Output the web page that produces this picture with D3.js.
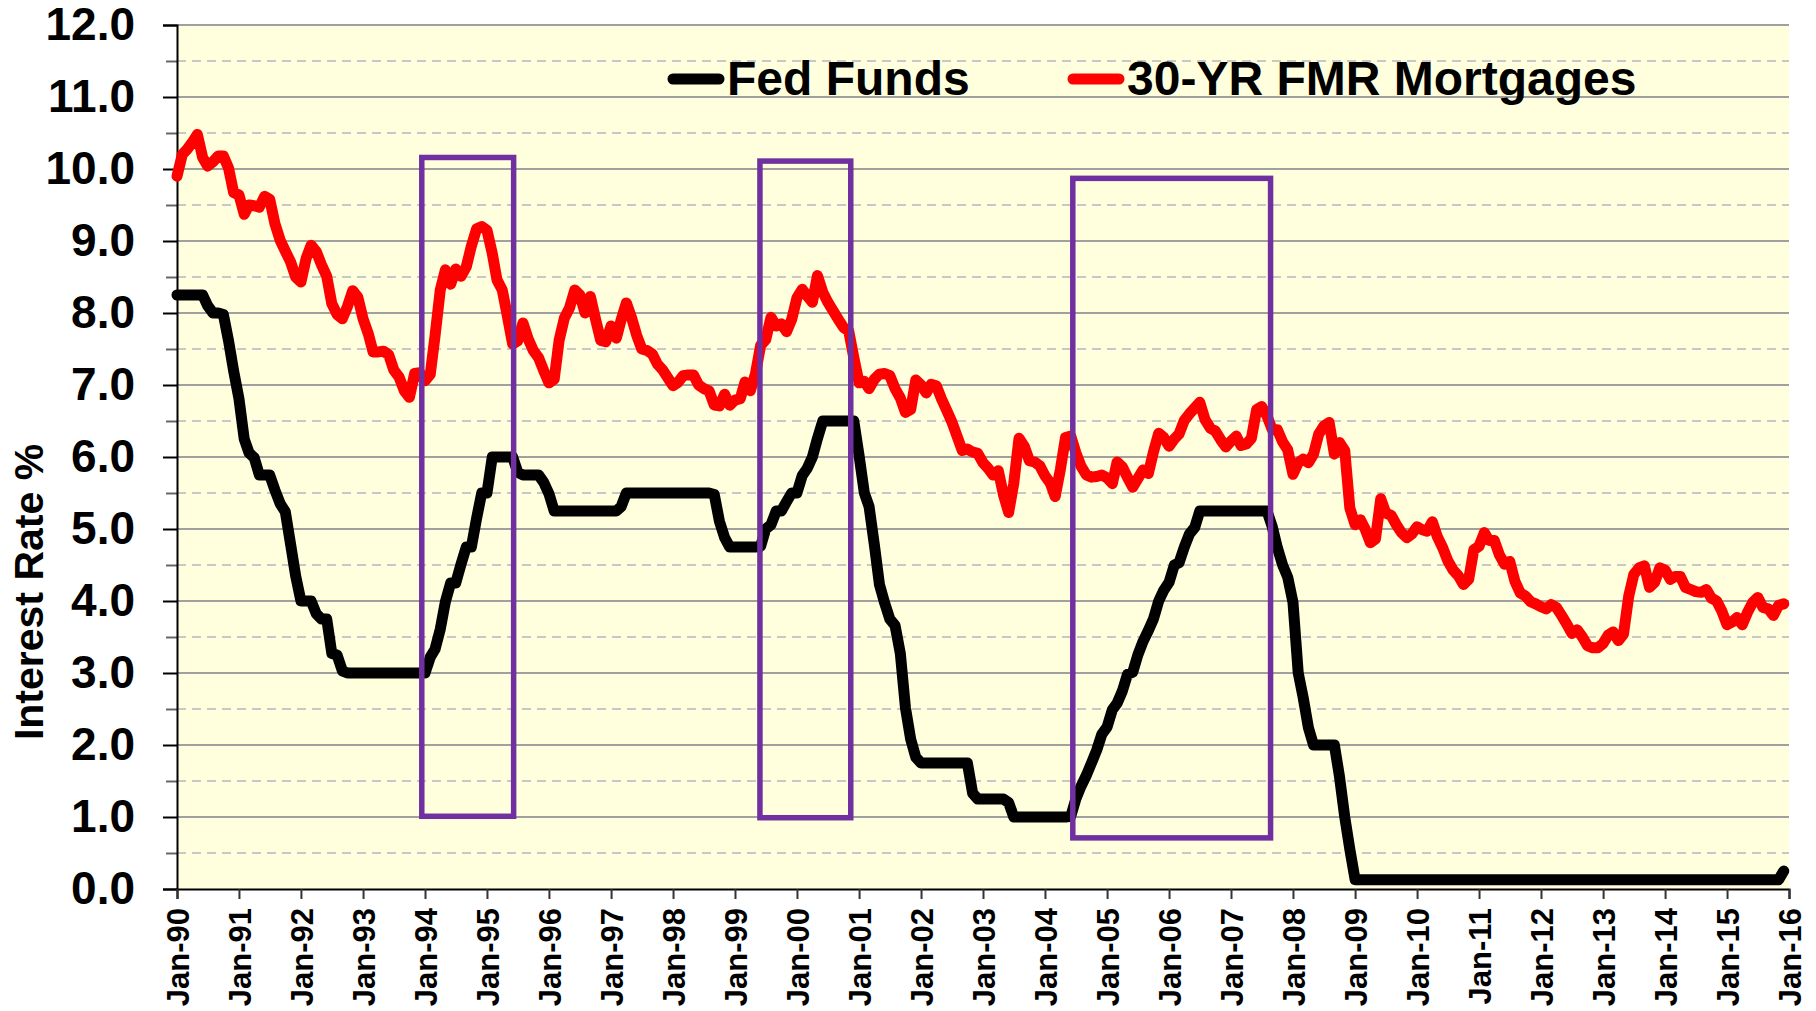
<!DOCTYPE html>
<html>
<head>
<meta charset="utf-8">
<script src="https://cdn.jsdelivr.net/npm/d3@7"></script>
<style>
  body { margin: 0; background: #fff; }
  svg { display: block; font-family: "Liberation Sans", Arial, sans-serif; font-weight: bold; }
</style>
</head>
<body>
<svg id="chart" width="1816" height="1011"></svg>
<script>
// monthly values, Jan-1990 .. Dec-2015
var startYear = 1990;

var fedFunds = [
  8.25, 8.25, 8.25, 8.25, 8.25, 8.25, 8.10, 8.00, 8.00, 7.98, 7.61, 7.19,
  6.81, 6.25, 6.06, 5.99, 5.75, 5.75, 5.75, 5.54, 5.35, 5.24, 4.79, 4.35,
  4.00, 4.00, 4.00, 3.82, 3.75, 3.75, 3.27, 3.25, 3.03, 3.00, 3.00, 3.00,
  3.00, 3.00, 3.00, 3.00, 3.00, 3.00, 3.00, 3.00, 3.00, 3.00, 3.00, 3.00,
  3.00, 3.22, 3.33, 3.61, 3.99, 4.25, 4.25, 4.51, 4.75, 4.75, 5.15, 5.50,
  5.50, 6.00, 6.00, 6.00, 6.00, 6.00, 5.79, 5.75, 5.75, 5.75, 5.75, 5.65,
  5.49, 5.25, 5.25, 5.25, 5.25, 5.25, 5.25, 5.25, 5.25, 5.25, 5.25, 5.25,
  5.25, 5.25, 5.31, 5.50, 5.50, 5.50, 5.50, 5.50, 5.50, 5.50, 5.50, 5.50,
  5.50, 5.50, 5.50, 5.50, 5.50, 5.50, 5.50, 5.50, 5.48, 5.11, 4.88, 4.75,
  4.75, 4.75, 4.75, 4.75, 4.75, 4.76, 5.00, 5.06, 5.25, 5.25, 5.38, 5.50,
  5.50, 5.74, 5.84, 6.00, 6.26, 6.50, 6.50, 6.50, 6.50, 6.50, 6.50, 6.50,
  6.02, 5.50, 5.31, 4.78, 4.23, 3.97, 3.75, 3.66, 3.27, 2.52, 2.08, 1.83,
  1.75, 1.75, 1.75, 1.75, 1.75, 1.75, 1.75, 1.75, 1.75, 1.75, 1.33, 1.25,
  1.25, 1.25, 1.25, 1.25, 1.25, 1.20, 1.00, 1.00, 1.00, 1.00, 1.00, 1.00,
  1.00, 1.00, 1.00, 1.00, 1.00, 1.01, 1.25, 1.43, 1.58, 1.75, 1.93, 2.15,
  2.25, 2.49, 2.58, 2.75, 2.98, 3.01, 3.25, 3.44, 3.59, 3.75, 4.00, 4.15,
  4.26, 4.50, 4.53, 4.75, 4.93, 5.02, 5.25, 5.25, 5.25, 5.25, 5.25, 5.25,
  5.25, 5.25, 5.25, 5.25, 5.25, 5.25, 5.25, 5.25, 5.03, 4.74, 4.50, 4.33,
  3.98, 3.00, 2.66, 2.24, 2.00, 2.00, 2.00, 2.00, 2.00, 1.56, 1.00, 0.55,
  0.13, 0.13, 0.13, 0.13, 0.13, 0.13, 0.13, 0.13, 0.13, 0.13, 0.13, 0.13,
  0.13, 0.13, 0.13, 0.13, 0.13, 0.13, 0.13, 0.13, 0.13, 0.13, 0.13, 0.13,
  0.13, 0.13, 0.13, 0.13, 0.13, 0.13, 0.13, 0.13, 0.13, 0.13, 0.13, 0.13,
  0.13, 0.13, 0.13, 0.13, 0.13, 0.13, 0.13, 0.13, 0.13, 0.13, 0.13, 0.13,
  0.13, 0.13, 0.13, 0.13, 0.13, 0.13, 0.13, 0.13, 0.13, 0.13, 0.13, 0.13,
  0.13, 0.13, 0.13, 0.13, 0.13, 0.13, 0.13, 0.13, 0.13, 0.13, 0.13, 0.13,
  0.13, 0.13, 0.13, 0.13, 0.13, 0.13, 0.13, 0.13, 0.13, 0.13, 0.13, 0.25
];

var mortgage30 = [
  9.90, 10.20, 10.27, 10.37, 10.48, 10.16, 10.04, 10.10, 10.18, 10.18, 10.01, 9.67,
  9.64, 9.37, 9.50, 9.49, 9.47, 9.62, 9.58, 9.24, 9.01, 8.86, 8.71, 8.50,
  8.43, 8.76, 8.94, 8.85, 8.67, 8.51, 8.13, 7.98, 7.92, 8.09, 8.31, 8.22,
  7.92, 7.71, 7.46, 7.46, 7.47, 7.42, 7.21, 7.11, 6.92, 6.83, 7.16, 7.17,
  7.06, 7.15, 7.68, 8.32, 8.60, 8.40, 8.61, 8.51, 8.64, 8.93, 9.17, 9.20,
  9.15, 8.83, 8.46, 8.32, 7.96, 7.57, 7.61, 7.86, 7.64, 7.48, 7.38, 7.20,
  7.03, 7.08, 7.62, 7.93, 8.07, 8.32, 8.25, 8.00, 8.23, 7.92, 7.62, 7.60,
  7.82, 7.65, 7.90, 8.14, 7.94, 7.69, 7.50, 7.48, 7.43, 7.29, 7.21, 7.10,
  6.99, 7.04, 7.13, 7.14, 7.14, 7.00, 6.95, 6.92, 6.72, 6.71, 6.87, 6.72,
  6.79, 6.81, 7.04, 6.92, 7.15, 7.55, 7.63, 7.94, 7.82, 7.85, 7.74, 7.91,
  8.21, 8.33, 8.24, 8.15, 8.52, 8.29, 8.15, 8.03, 7.91, 7.80, 7.75, 7.38,
  7.03, 7.05, 6.95, 7.08, 7.15, 7.16, 7.13, 6.95, 6.82, 6.62, 6.66, 7.07,
  7.00, 6.89, 7.01, 6.99, 6.81, 6.65, 6.49, 6.29, 6.09, 6.11, 6.07, 6.05,
  5.92, 5.84, 5.75, 5.81, 5.48, 5.23, 5.63, 6.26, 6.15, 5.95, 5.93, 5.88,
  5.74, 5.64, 5.45, 5.83, 6.27, 6.29, 6.06, 5.87, 5.75, 5.72, 5.73, 5.75,
  5.71, 5.63, 5.93, 5.86, 5.72, 5.58, 5.70, 5.82, 5.77, 6.07, 6.33, 6.27,
  6.15, 6.25, 6.32, 6.51, 6.60, 6.68, 6.76, 6.52, 6.40, 6.36, 6.24, 6.14,
  6.22, 6.29, 6.16, 6.18, 6.26, 6.66, 6.70, 6.57, 6.38, 6.38, 6.21, 6.10,
  5.76, 5.92, 5.97, 5.92, 6.04, 6.32, 6.43, 6.48, 6.04, 6.20, 6.09, 5.29,
  5.06, 5.13, 5.00, 4.81, 4.86, 5.42, 5.22, 5.19, 5.06, 4.95, 4.88, 4.93,
  5.03, 4.99, 4.97, 5.10, 4.89, 4.74, 4.56, 4.43, 4.35, 4.23, 4.30, 4.71,
  4.76, 4.95, 4.84, 4.84, 4.64, 4.51, 4.55, 4.27, 4.11, 4.07, 3.99, 3.96,
  3.92, 3.89, 3.95, 3.91, 3.80, 3.68, 3.55, 3.60, 3.50, 3.38, 3.35, 3.35,
  3.41, 3.53, 3.57, 3.45, 3.54, 4.07, 4.37, 4.46, 4.49, 4.19, 4.26, 4.46,
  4.43, 4.30, 4.34, 4.34, 4.19, 4.16, 4.13, 4.12, 4.16, 4.04, 4.00, 3.86,
  3.67, 3.71, 3.77, 3.67, 3.84, 3.98, 4.05, 3.91, 3.89, 3.80, 3.94, 3.96
];

var seriesNames = ["Fed Funds", "30-YR FMR Mortgages"];

// highlighted tightening periods: start date, end date, low rate, high rate
var boxStarts = ["1993-12-13", "1999-05-28", "2004-06-13"];
var boxEnds   = ["1995-06-07", "2000-11-13", "2007-08-22"];
var boxLows   = [1.01, 0.99, 0.71];
var boxHighs  = [10.16, 10.11, 9.87];

var yMajor = d3.range(0, 12.01, 1);
var yMinor = d3.range(0.5, 12, 1);

var svg = d3.select("#chart");
var plotLeft = 177, plotRight = 1789, plotTop = 25, plotBottom = 889;

var x = d3.scaleTime()
  .domain([new Date(startYear, 0, 1), new Date(2016, 0, 1)])
  .range([plotLeft, plotRight]);

var y = d3.scaleLinear()
  .domain([0, 12])
  .range([plotBottom, plotTop]);

var parse = d3.timeParse("%Y-%m-%d");
function monthDate(i) { return new Date(startYear, i, 1); }

// plot background
svg.append("rect")
  .attr("x", plotLeft).attr("y", plotTop)
  .attr("width", plotRight - plotLeft).attr("height", plotBottom - plotTop)
  .attr("fill", "#ffffdd");

// gridlines
svg.append("g").selectAll("line")
  .data(yMinor).enter().append("line")
  .attr("x1", plotLeft).attr("x2", plotRight)
  .attr("y1", function(d) { return y(d); })
  .attr("y2", function(d) { return y(d); })
  .attr("stroke", "#c8c8c8")
  .attr("stroke-width", 2)
  .attr("stroke-dasharray", "9,6");

svg.append("g").selectAll("line")
  .data(yMajor.filter(function(d) { return d > 0; })).enter().append("line")
  .attr("x1", plotLeft).attr("x2", plotRight)
  .attr("y1", function(d) { return y(d); })
  .attr("y2", function(d) { return y(d); })
  .attr("stroke", "#a0a0a0")
  .attr("stroke-width", 2);

// y axis: minor ticks, then major ticks with labels
svg.append("g")
  .attr("transform", "translate(" + plotLeft + ",0)")
  .call(d3.axisLeft(y).tickValues(yMinor).tickSize(11).tickFormat(""))
  .call(function(g) {
    g.select(".domain").remove();
    g.selectAll("line").attr("stroke", "#666").attr("stroke-width", 2);
  });

svg.append("g")
  .attr("transform", "translate(" + plotLeft + ",0)")
  .call(d3.axisLeft(y).tickValues(yMajor).tickSize(14).tickPadding(28).tickFormat(d3.format(".1f")))
  .call(function(g) {
    g.select(".domain").attr("stroke", "#000").attr("stroke-width", 2);
    g.selectAll("line").attr("stroke", "#000").attr("stroke-width", 2);
    g.selectAll("text")
      .attr("font-size", 46)
      .attr("font-family", "Liberation Sans, Arial, sans-serif")
      .attr("font-weight", "bold")
      .attr("fill", "#000");
  });

// x axis
svg.append("g")
  .attr("transform", "translate(0," + plotBottom + ")")
  .call(d3.axisBottom(x).ticks(d3.timeYear.every(1)).tickSize(10).tickFormat(d3.timeFormat("%b-%y")))
  .call(function(g) {
    g.select(".domain").attr("stroke", "#000").attr("stroke-width", 2);
    g.selectAll("line").attr("stroke", "#333").attr("stroke-width", 2);
    g.selectAll("text")
      .attr("font-size", 31)
      .attr("font-family", "Liberation Sans, Arial, sans-serif")
      .attr("font-weight", "bold")
      .attr("fill", "#000")
      .attr("text-anchor", "end")
      .attr("transform", "rotate(-90)")
      .attr("x", -19)
      .attr("y", 0)
      .attr("dy", "0.36em");
  });

// y axis title
svg.append("text")
  .attr("transform", "translate(43,592) rotate(-90)")
  .attr("text-anchor", "middle")
  .attr("font-size", 41)
  .attr("fill", "#000")
  .text("Interest Rate %");

// series lines
var line = d3.line()
  .x(function(d, i) { return x(monthDate(i)); })
  .y(function(d) { return y(d); });

svg.append("path")
  .datum(fedFunds)
  .attr("d", line)
  .attr("fill", "none")
  .attr("stroke", "#000")
  .attr("stroke-width", 11)
  .attr("stroke-linejoin", "round")
  .attr("stroke-linecap", "round");

svg.append("path")
  .datum(mortgage30)
  .attr("d", line)
  .attr("fill", "none")
  .attr("stroke", "#ff0000")
  .attr("stroke-width", 11)
  .attr("stroke-linejoin", "round")
  .attr("stroke-linecap", "round");

// highlight boxes
svg.append("g").selectAll("rect")
  .data(d3.range(boxStarts.length)).enter().append("rect")
  .attr("x", function(i) { return x(parse(boxStarts[i])); })
  .attr("y", function(i) { return y(boxHighs[i]); })
  .attr("width", function(i) { return x(parse(boxEnds[i])) - x(parse(boxStarts[i])); })
  .attr("height", function(i) { return y(boxLows[i]) - y(boxHighs[i]); })
  .attr("fill", "none")
  .attr("stroke", "#7030a0")
  .attr("stroke-width", 5.5);

// legend
var legend = svg.append("g");
var legendX = [668, 1068];
var legendColors = ["#000", "#ff0000"];
seriesNames.forEach(function(name, i) {
  legend.append("line")
    .attr("x1", legendX[i] + 5).attr("x2", legendX[i] + 51)
    .attr("y1", 79).attr("y2", 79)
    .attr("stroke", legendColors[i])
    .attr("stroke-width", 11)
    .attr("stroke-linecap", "round");
  legend.append("text")
    .attr("x", legendX[i] + 59)
    .attr("y", 95)
    .attr("font-size", 48)
    .attr("fill", "#000")
    .text(name);
});
</script>
</body>
</html>
